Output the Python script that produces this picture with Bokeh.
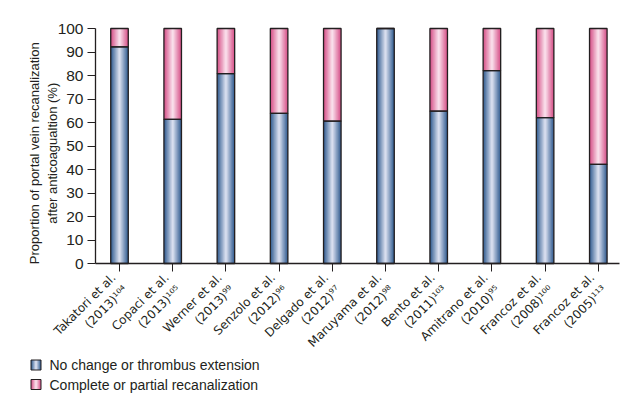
import numpy as np
from bokeh.plotting import figure
from bokeh.models import Range1d, FixedTicker
from bokeh.core.properties import value
from bokeh.embed import file_html
from bokeh.resources import INLINE

studies = ["Takatori et al.\n(2013)\u00b9\u2070\u2074", "Copaci et al.\n(2013)\u00b9\u2070\u2075",
           "Werner et al.\n(2013)\u2079\u2079", "Senzolo et al.\n(2012)\u2079\u2076",
           "Delgado et al.\n(2012)\u2079\u2077", "Maruyama et al.\n(2012)\u2079\u2078",
           "Bento et al.\n(2011)\u00b9\u2070\u00b3", "Amitrano et al.\n(2010)\u2079\u2075",
           "Francoz et al.\n(2008)\u00b9\u2070\u2070", "Francoz et al.\n(2005)\u00b9\u00b9\u00b3"]
no_change = [92.2, 61.3, 80.8, 63.9, 60.6, 100.0, 64.8, 82.1, 62.1, 42.2]
recanalized = [100 - v for v in no_change]
series_names = ["No change or thrombus extension", "Complete or partial recanalization"]
y_title_lines = ["Proportion of portal vein recanalization", "after anticoagualtion (%)"]

FONT = "Liberation Sans"
TICKFONT = "DejaVu Sans"
TXT = "#231f20"

# layout constants (canvas pixels)
CW, CH = 636, 398
X0PX, XSTEP = 119.0, 53.2      # first category centre, spacing
Y0PX, YSCALE = 263.0, 2.35     # y=0 position, px per unit
AX_LEFT, AX_RIGHT = 95.0, 619.0

def px2x(px):
    return (px - X0PX) / XSTEP

def py2y(py):
    return (Y0PX - py) / YSCALE

x = list(range(len(studies)))
blue_edge, blue_light = np.array([0x34, 0x5e, 0x92]), np.array([0xd8, 0xde, 0xee])
pink_edge, pink_light = np.array([0xd6, 0x52, 0x89]), np.array([0xf9, 0xde, 0xea])

def mix(a, b, t):
    c = a + (b - a) * t
    return "#%02x%02x%02x" % tuple(int(round(v)) for v in c)

p = figure(frame_width=CW, frame_height=CH, output_backend="svg", toolbar_location=None,
           x_range=Range1d(px2x(0), px2x(CW)), y_range=Range1d(py2y(CH), py2y(0)),
           min_border=0)
p.outline_line_color = None
p.xgrid.visible = False
p.ygrid.visible = False

bottoms = [0] * len(x)
tops = [n + r for n, r in zip(no_change, recanalized)]
W = 0.33
N = 12
for k in range(N):
    t = k / (N - 1)
    w = W * (1 - k / N)
    p.vbar(x=x, width=w, bottom=bottoms, top=no_change, fill_color=mix(blue_edge, blue_light, t),
           line_color=None)
    p.vbar(x=x, width=w, bottom=no_change, top=tops, fill_color=mix(pink_edge, pink_light, t),
           line_color=None)
p.vbar(x=x, width=W, bottom=bottoms, top=no_change, fill_color=None, line_color=TXT, line_width=1.3)
p.vbar(x=x, width=W, bottom=no_change, top=tops, fill_color=None, line_color=TXT, line_width=1.3)

# x axis, fixed at y = 0
xa = p.xaxis[0]
xa.fixed_location = 0
xa.bounds = (px2x(AX_LEFT), px2x(AX_RIGHT))
xa.ticker = FixedTicker(ticks=x)
xa.major_label_overrides = {i: s for i, s in enumerate(studies)}
xa.major_label_orientation = np.pi / 4
xa.major_label_text_font = TICKFONT
xa.major_label_text_font_size = "12px"
xa.major_label_text_color = TXT
xa.major_tick_in = 0
xa.major_tick_out = 8
xa.minor_tick_line_color = None
xa.axis_line_color = TXT
xa.major_tick_line_color = TXT
xa.major_label_standoff = 10
xa.axis_line_width = 1.3

# y axis, fixed at the left edge of the plotting area
ya = p.yaxis[0]
ya.fixed_location = px2x(AX_LEFT)
ya.bounds = (0, 100)
ya.ticker = FixedTicker(ticks=list(range(0, 101, 10)))
ya.major_label_text_font = FONT
ya.major_label_text_font_size = "15.5px"
ya.major_label_text_color = TXT
ya.major_tick_in = 0
ya.major_tick_out = 8
ya.major_label_standoff = 4
ya.minor_tick_line_color = None
ya.axis_line_color = TXT
ya.major_tick_line_color = TXT
ya.axis_line_width = 1.3
pad = "\u00a0" * 4
ya.axis_label = "\n".join(line + pad for line in y_title_lines)
ya.axis_label_text_font = FONT
ya.axis_label_text_font_size = "13px"
ya.axis_label_text_font_style = "normal"
ya.axis_label_text_color = TXT
ya.axis_label_standoff = -5

# legend (squares with the same gradient, plus labels)
row_py = [364.5, 384.0]
sq_px, sq_size_px, txt_px = 35.5, 10.0, 49.0
edges = [blue_edge, pink_edge]
lights = [blue_light, pink_light]
for i, name in enumerate(series_names):
    M = 8
    for k in range(M):
        t = k / (M - 1)
        p.rect(x=[px2x(sq_px)], y=[py2y(row_py[i])], width=sq_size_px * (1 - k / M), height=sq_size_px,
               width_units="screen", height_units="screen",
               fill_color=mix(edges[i], lights[i], t), line_color=None)
    p.rect(x=[px2x(sq_px)], y=[py2y(row_py[i])], width=sq_size_px, height=sq_size_px,
           width_units="screen", height_units="screen", fill_color=None, line_color=TXT, line_width=1)
    p.text(x=[px2x(txt_px)], y=[py2y(row_py[i])], text=[name], text_font=value(FONT),
           text_font_size="14px", text_color=TXT, text_baseline="middle", text_align="left")

open("out.html", "w").write(file_html(p, INLINE))
